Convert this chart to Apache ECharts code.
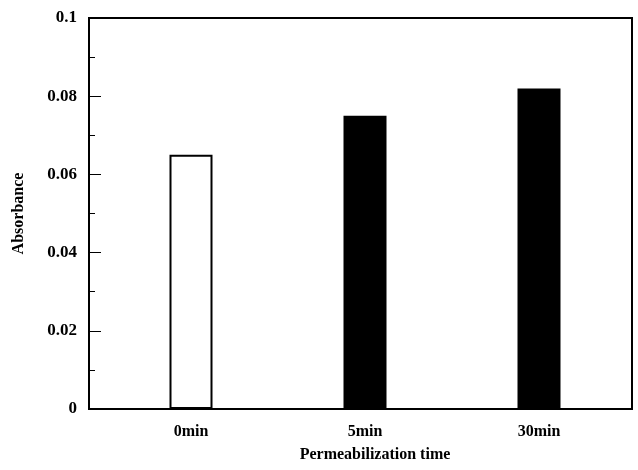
<!DOCTYPE html>
<html>
<head>
<meta charset="utf-8">
<script src="https://cdn.jsdelivr.net/npm/echarts@6/dist/echarts.min.js"></script>
<style>
  html, body { margin: 0; padding: 0; background: #fff; }
  #chart { width: 638px; height: 470px; }
</style>
</head>
<body>
<div id="chart"></div>
<script>
// Absorbance after different permeabilization times
const categories = ['0min', '5min', '30min'];
const absorbance = [0.065, 0.075, 0.082];
const barFills = ['#ffffff', '#000000', '#000000'];

const FONT = "'Liberation Serif', 'Times New Roman', serif";

const chart = echarts.init(document.getElementById('chart'), null, { renderer: 'canvas' });

chart.setOption({
  animation: false,
  backgroundColor: '#ffffff',
  grid: [
    // framed plot box carrying the y scale
    { left: 89, right: 6, top: 18, bottom: 61, show: true, borderColor: '#000', borderWidth: 2, backgroundColor: 'transparent' },
    // bar layer, same vertical extent
    { left: 104, right: 12, top: 18, bottom: 61 }
  ],
  xAxis: [
    {
      gridIndex: 0, type: 'value', min: 0, max: 1,
      axisLine: { show: false }, axisTick: { show: false },
      axisLabel: { show: false }, splitLine: { show: false }
    },
    {
      gridIndex: 1, type: 'category', data: categories,
      axisLine: { show: false },
      axisTick: { show: true, inside: true, alignWithLabel: true, length: 9, lineStyle: { color: '#000', width: 1 } },
      axisLabel: { color: '#000', fontFamily: FONT, fontWeight: 'bold', fontSize: 16, margin: 15 },
      splitLine: { show: false },
      name: 'Permeabilization time',
      nameLocation: 'middle',
      nameGap: 38,
      nameTextStyle: { color: '#000', fontFamily: FONT, fontWeight: 'bold', fontSize: 16, padding: [0, 0, 0, 20] }
    }
  ],
  yAxis: [
    {
      gridIndex: 0, type: 'value', min: 0, max: 0.1, interval: 0.02,
      axisLine: { show: true, lineStyle: { color: '#000', width: 2 } },
      axisTick: { show: true, inside: true, length: 12, lineStyle: { color: '#000', width: 1 } },
      minorTick: { show: true, splitNumber: 2, length: 6, lineStyle: { color: '#000', width: 1 } },
      axisLabel: {
        color: '#000', fontFamily: FONT, fontWeight: 'bold', fontSize: 17, margin: 12,
        formatter: v => String(parseFloat(v.toFixed(2)))
      },
      splitLine: { show: false },
      name: 'Absorbance',
      nameLocation: 'middle',
      nameRotate: 90,
      nameGap: 62,
      nameTextStyle: { color: '#000', fontFamily: FONT, fontWeight: 'bold', fontSize: 16 }
    },
    {
      gridIndex: 1, type: 'value', min: 0, max: 0.1,
      show: false
    }
  ],
  series: [
    {
      type: 'bar',
      xAxisIndex: 1,
      yAxisIndex: 1,
      barWidth: 43,
      data: absorbance.map((v, i) => ({
        value: v,
        itemStyle: { color: barFills[i], borderColor: '#000', borderWidth: 2 }
      }))
    }
  ]
});
</script>
</body>
</html>
